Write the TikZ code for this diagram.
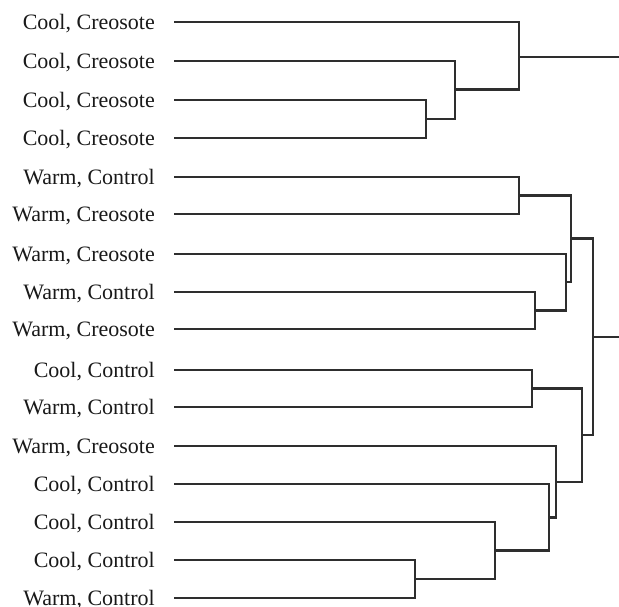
\documentclass[tikz,border=0pt]{standalone}
\usepackage{fontspec}
\setmainfont{Liberation Serif}
\begin{document}
\begin{tikzpicture}[x=1pt,y=-1pt,
  leaflabel/.style={anchor=base east,inner sep=0pt,font=\fontsize{22}{26}\selectfont,text=black!90},
  branch/.style={draw=black!82,line width=2.5pt}]
\useasboundingbox (0,0) rectangle (619,606);

% leaf labels and the start of each leaf branch
\foreach \i/\y/\t in {1/22/{Cool, Creosote},2/61/{Cool, Creosote},3/100/{Cool, Creosote},4/138/{Cool, Creosote},
  5/177/{Warm, Control},6/214/{Warm, Creosote},7/254/{Warm, Creosote},8/292/{Warm, Control},
  9/329/{Warm, Creosote},10/370/{Cool, Control},11/407/{Warm, Control},12/446/{Warm, Creosote},
  13/484/{Cool, Control},14/522/{Cool, Control},15/560/{Cool, Control},16/598/{Warm, Control}}{
  \node[leaflabel] (t\i) at (155,\y+7) {\t};
  \coordinate (L\i) at (174,\y);
}

% merge points of the clusters
\coordinate (J1) at (426,119);
\coordinate (J2) at (455,89.5);
\coordinate (J3) at (519,57);
\coordinate (R1) at (619,57);
\coordinate (J4) at (519,195.5);
\coordinate (J5) at (535,310.5);
\coordinate (J6) at (566,282);
\coordinate (J7) at (571,238.5);
\coordinate (J8) at (532,388.5);
\coordinate (J9) at (415,579);
\coordinate (J10) at (495,550.5);
\coordinate (J11) at (549,517.5);
\coordinate (J12) at (556,482);
\coordinate (J13) at (582,435);
\coordinate (J14) at (593,337);
\coordinate (R2) at (619,337);

% first group
\draw[branch] (L3) -| (J1);  \draw[branch] (L4) -| (J1);
\draw[branch] (L2) -| (J2);  \draw[branch] (J1) -| (J2);
\draw[branch] (L1) -| (J3);  \draw[branch] (J2) -| (J3);
\draw[branch] (J3) -- (R1);

% second group
\draw[branch] (L5) -| (J4);  \draw[branch] (L6) -| (J4);
\draw[branch] (L8) -| (J5);  \draw[branch] (L9) -| (J5);
\draw[branch] (L7) -| (J6);  \draw[branch] (J5) -| (J6);
\draw[branch] (J4) -| (J7);  \draw[branch] (J6) -| (J7);
\draw[branch] (L10) -| (J8); \draw[branch] (L11) -| (J8);
\draw[branch] (L15) -| (J9); \draw[branch] (L16) -| (J9);
\draw[branch] (L14) -| (J10); \draw[branch] (J9) -| (J10);
\draw[branch] (L13) -| (J11); \draw[branch] (J10) -| (J11);
\draw[branch] (L12) -| (J12); \draw[branch] (J11) -| (J12);
\draw[branch] (J8) -| (J13); \draw[branch] (J12) -| (J13);
\draw[branch] (J7) -| (J14); \draw[branch] (J13) -| (J14);
\draw[branch] (J14) -- (R2);
\end{tikzpicture}
\end{document}
